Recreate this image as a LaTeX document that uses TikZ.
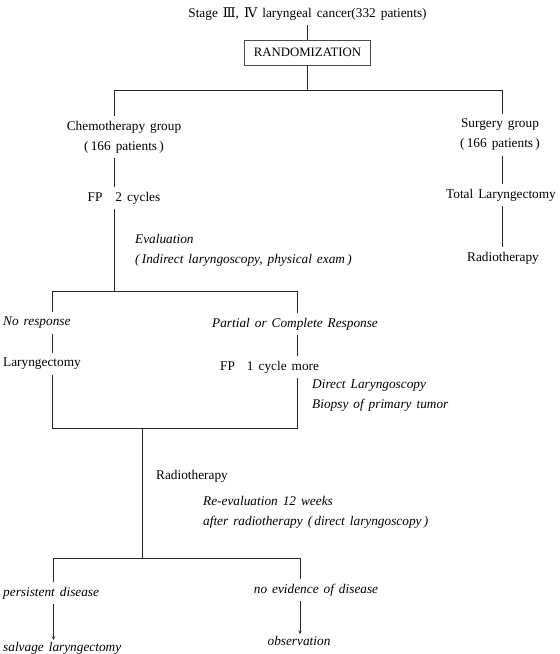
\documentclass[tikz,border=0pt]{standalone}
\usepackage{fontspec}
\setmainfont{Liberation Serif}[WordSpace={1.5}]
\newfontfamily\numfont{DejaVu Serif}
\usetikzlibrary{positioning,arrows}

\begin{document}
\begin{tikzpicture}[x=1pt,y=1pt]
			\tikzstyle{every node}+=[inner xsep=2pt,inner ysep=5pt,font=\fontsize{13.3}{20}\selectfont]
			\tikzstyle{line}=[black!85,line width=0.6pt]
			\tikzstyle{note}=[font=\fontsize{13.3}{20}\selectfont\itshape,align=left,anchor=west]
			\tikzstyle{leftnode}=[anchor=west]
			\useasboundingbox (0,0) rectangle (560,-654);
			% top of the tree
			\node (stage) at (307.5,-14) {Stage {\numfont Ⅲ}, {\numfont Ⅳ} laryngeal cancer(332 patients)};
			\node [draw=black!70,line width=0.6pt,minimum width=126pt,minimum height=25pt,inner sep=3pt,font=\fontsize{12.8}{14}\selectfont] (rand) at (307.5,-52.5) {RANDOMIZATION};
			\node [align=center] (chemo) at (124,-137) {Chemotherapy group\\(\,166 patients\,)};
			\node [align=center] (surg) at (500,-135) {Surgery group\\(\,166 patients\,)};
			\node (fp2) at (124,-198) {FP\hspace{13pt}2 cycles};
			\node (totlar) at (501,-195) {Total Laryngectomy};
			\node (radsurg) at (503,-258) {Radiotherapy};
			\node [note] (eval) at (133,-250) {Evaluation\\(\,Indirect laryngoscopy, physical exam\,)};
			% response branch
			\node [note] (nores) at (1,-323) {No response};
			\node [note] (pcr) at (210,-324) {Partial or Complete Response};
			\node [leftnode] (laryn) at (1,-364) {Laryngectomy};
			\node [leftnode] (fp1) at (218,-367) {FP\hspace{12pt}1 cycle more};
			\node [note] (dirlar) at (310,-396) {Direct Laryngoscopy\\Biopsy of primary tumor};
			% radiotherapy and outcome
			\node [leftnode] (radchemo) at (154,-476) {Radiotherapy};
			\node [note] (reeval) at (201,-512) {Re-evaluation 12 weeks\\after radiotherapy (\,direct laryngoscopy\,)};
			\node [note] (pers) at (1,-593) {persistent disease};
			\node [note,anchor=center] (noev) at (316,-590) {no evidence of disease};
			\node [note,inner ysep=2pt] (salv) at (1,-648) {salvage laryngectomy};
			\node [note,anchor=center,inner ysep=2pt] (obs) at (299,-641) {observation};
			% branch points
			\coordinate (split) at (307.5,-90);
			\coordinate (ctrunk) at (114.5,-90);
			\coordinate (strunk) at (502,-90);
			\coordinate (resp) at (114.5,-291);
			\coordinate (nrl) at (52.5,-291);
			\coordinate (pcrl) at (297.5,-291);
			\coordinate (jl) at (52.5,-428);
			\coordinate (jr) at (297.5,-428);
			\coordinate (join) at (142,-428);
			\coordinate (outc) at (142,-558);
			\coordinate (pl) at (53.5,-558);
			\coordinate (pr) at (300,-558);
			% connectors
			\draw [line] (stage) -- (rand);
			\draw [line] (rand) -- (split);
			\draw [line] (ctrunk |- chemo.north) -- (ctrunk) -- (strunk) -- (strunk |- surg.north);
			\draw [line] (ctrunk |- chemo.south) -- (ctrunk |- fp2.north);
			\draw [line] (ctrunk |- fp2.south) -- (resp);
			\draw [line] (strunk |- surg.south) -- (strunk |- totlar.north);
			\draw [line] (strunk |- totlar.south) -- (strunk |- radsurg.north);
			\draw [line] (nrl |- nores.north) -- (nrl) -- (pcrl) -- (pcrl |- pcr.north);
			\draw [line] (nrl |- nores.south) -- (nrl |- laryn.north);
			\draw [line] (pcrl |- pcr.south) -- (pcrl |- fp1.north);
			\draw [line] (jl |- laryn.south) -- (jl) -- (jr) -- (jr |- fp1.south);
			\draw [line] (join) -- (outc);
			\draw [line] (pl |- pers.north) -- (pl) -- (pr) -- (pr |- noev.north);
			\draw [line,-stealth] (pl |- pers.south) -- (pl |- salv.north);
			\draw [line,-stealth] (pr |- noev.south) -- (pr |- obs.north);
\end{tikzpicture}
\end{document}
